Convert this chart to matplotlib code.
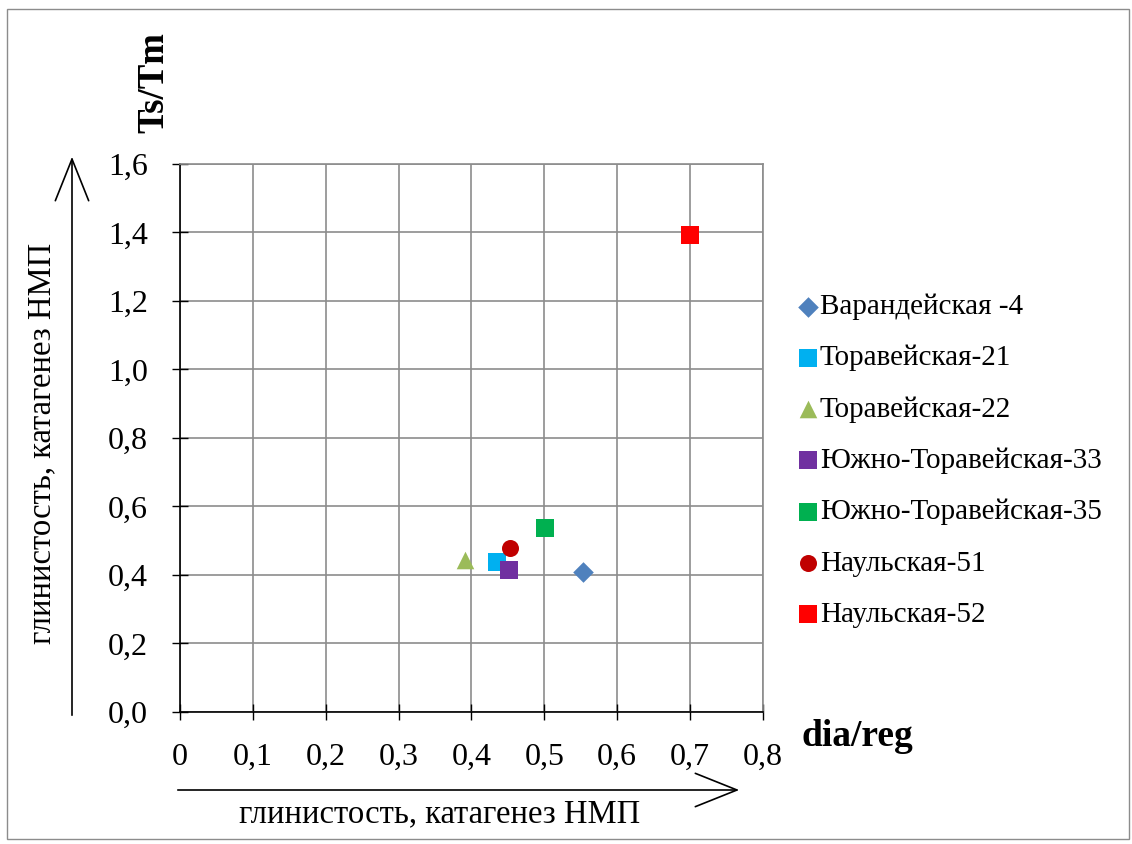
import numpy as np
from matplotlib import pyplot as plt
from matplotlib.patches import Rectangle, FancyArrowPatch

plt.rcParams.update({
    "font.family": ['Liberation Serif', 'DejaVu Serif'],
    "font.size": 18,
})

names = ['Варандейская -4', 'Торавейская-21', 'Торавейская-22',
         'Южно-Торавейская-33', 'Южно-Торавейская-35',
         'Наульская-51', 'Наульская-52']
dia_reg = [0.553, 0.435, 0.391, 0.451, 0.501, 0.453, 0.700]
ts_tm = [0.409, 0.438, 0.444, 0.415, 0.537, 0.479, 1.393]
markers = ['D', 's', '^', 's', 's', 'o', 's']
colors = ['#4F81BD', '#00B0F0', '#9BBB59', '#7030A0', '#00B050', '#C00000', '#FF0000']
sizes = [110, 170, 160, 170, 170, 150, 170]

xticks = np.arange(0, 0.81, 0.1)
yticks = np.arange(0, 1.61, 0.2)
xlabels = ['0'] + ['%.1f' % v for v in xticks[1:]]
xlabels = [s.replace('.', ',') for s in xlabels]
ylabels = [('%.1f' % v).replace('.', ',') for v in yticks]

fig = plt.figure(figsize=(11.32, 8.44), dpi=100)
ax = fig.add_axes([0.159, 0.1564, 0.515, 0.6493])

for i in range(len(names)):
    ax.scatter(dia_reg[i], ts_tm[i], marker=markers[i], s=sizes[i],
               color=colors[i], label=names[i], zorder=3, linewidths=0)

ax.set_xlim(0, 0.8)
ax.set_ylim(0, 1.6)
ax.set_xticks(xticks)
ax.set_xticklabels(xlabels)
ax.set_yticks(yticks)
ax.set_yticklabels(ylabels)
ax.tick_params(direction='inout', length=12, width=1, labelsize=23)
ax.tick_params(axis='y', pad=17)
ax.tick_params(axis='x', pad=16)
ax.grid(True, color='#8c8c8c', linewidth=1.2)
ax.set_axisbelow(True)
for s in ['top', 'right']:
    ax.spines[s].set_color('#8c8c8c')
    ax.spines[s].set_linewidth(1.2)
for s in ['left', 'bottom']:
    ax.spines[s].set_color('black')
    ax.spines[s].set_linewidth(1.2)

leg = fig.legend(loc='upper left', bbox_to_anchor=(785 / 1132, 1 - 282 / 844), frameon=False,
                 handletextpad=0.0, handlelength=0.8, labelspacing=0.85,
                 borderaxespad=0, fontsize=21, scatterpoints=1)

# axis titles
fig.text(154 / 1132, 1 - 83 / 844, 'Ts/Tm', rotation=90, ha='center', va='center',
         fontsize=26.5, fontweight='bold')
fig.text(857 / 1132, 1 - 737 / 844, 'dia/reg', ha='center', va='center',
         fontsize=27, fontweight='bold')

# arrows
fig.add_artist(FancyArrowPatch((72 / 1132, 1 - 718 / 844), (72 / 1132, 1 - 154 / 844),
                               transform=fig.transFigure, arrowstyle='->,head_length=1.5,head_width=0.6',
                               color='black', lw=1.2, mutation_scale=20))
fig.add_artist(FancyArrowPatch((175 / 1132, 1 - 790 / 844), (742 / 1132, 1 - 790 / 844),
                               transform=fig.transFigure, arrowstyle='->,head_length=1.5,head_width=0.6',
                               color='black', lw=1.2, mutation_scale=20))
fig.text(42 / 1132, 1 - 443 / 844, 'глинистость, катагенез НМП', rotation=90,
         ha='center', va='center', fontsize=23.5)
fig.text(440 / 1132, 1 - 814 / 844, 'глинистость, катагенез НМП',
         ha='center', va='center', fontsize=23.5)

# outer frame
fig.add_artist(Rectangle((7 / 1132, 1 - 839 / 844), 1122 / 1132, 830 / 844,
                         transform=fig.transFigure, fill=False, edgecolor='#8c8c8c', lw=1))

fig.savefig('out.png', dpi=100)
